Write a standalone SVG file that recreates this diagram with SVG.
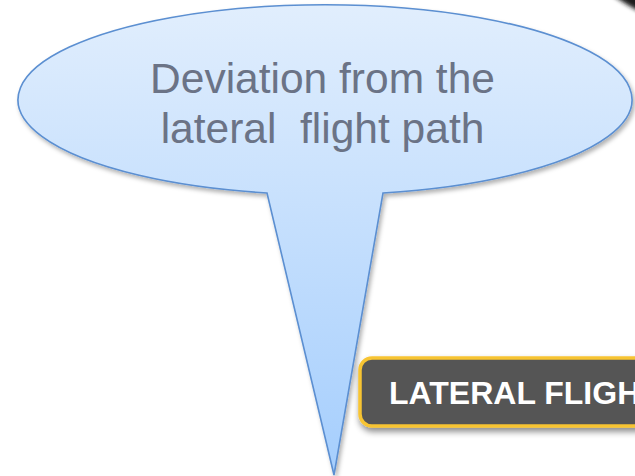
<svg xmlns="http://www.w3.org/2000/svg" width="635" height="476" viewBox="0 0 635 476">
  <defs>
    <linearGradient id="callFill" x1="0" y1="5" x2="0" y2="475" gradientUnits="userSpaceOnUse">
      <stop offset="0" stop-color="#e1eefd"/>
      <stop offset="1" stop-color="#a5cefd"/>
    </linearGradient>
    <filter id="shadow" x="-10%" y="-10%" width="130%" height="130%">
      <feDropShadow dx="2" dy="3" stdDeviation="2" flood-color="#000" flood-opacity="0.3"/>
    </filter>
    <filter id="shadow2" x="-10%" y="-20%" width="130%" height="160%">
      <feDropShadow dx="1" dy="4" stdDeviation="3" flood-color="#000" flood-opacity="0.45"/>
    </filter>
    <filter id="blur" x="-50%" y="-50%" width="200%" height="200%">
      <feGaussianBlur stdDeviation="2"/>
    </filter>
    <style>
      .callout { fill: url(#callFill); stroke: #5b8fd1; stroke-width: 1.6; stroke-linejoin: miter; }
      .callText { font-family: "Liberation Sans", Arial, sans-serif; font-size: 42.5px; fill: #6b7386; }
      .label { fill: #555555; stroke: #f7c433; stroke-width: 3.5; }
      .labelText { font-family: "Liberation Sans", Arial, sans-serif; font-size: 32px; font-weight: bold; fill: #ffffff; }
    </style>
  </defs>

  <g id="corner-shape">
    <path d="M 611 -6 L 660 -6 L 660 20 Q 636 12 611 -6 Z" fill="#1e1e1e" filter="url(#blur)"/>
  </g>

  <g id="callout">
    <path class="callout" filter="url(#shadow)" d="M 267 193 A 307 95 0 1 1 383 193 L 334 475 Z"/>
    <text class="callText" x="322.5" y="92.5" text-anchor="middle">Deviation from the</text>
    <text class="callText" x="322.5" y="142.5" text-anchor="middle" xml:space="preserve">lateral  flight path</text>
  </g>

  <g id="lateral-flight-path">
    <rect class="label" filter="url(#shadow2)" x="360" y="358" width="330" height="68" rx="12" ry="12"/>
    <text class="labelText" x="389" y="404">LATERAL FLIGH</text>
  </g>

  <g id="connectors"/>
</svg>
